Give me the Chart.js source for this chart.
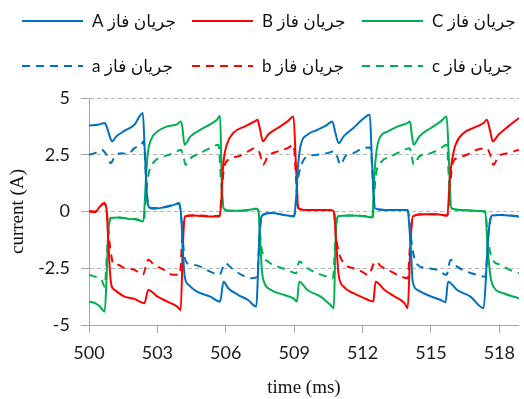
<!DOCTYPE html>
<html><head><meta charset="utf-8">
<script src="https://cdn.jsdelivr.net/npm/chart.js@4.4.0/dist/chart.umd.min.js"></script>
<style>html,body{margin:0;padding:0;background:#fff}#wrap{width:524px;height:399px;position:relative}</style>
</head><body><div id="wrap"><canvas id="c"></canvas></div>
<script>
// ---- data ----
const xTickLabels = [500, 503, 506, 509, 512, 515, 518];
const yTickLabels = [-5, -2.5, 0, 2.5, 5];
const seriesLabels = ['جریان فاز A', 'جریان فاز B', 'جریان فاز C', 'جریان فاز a', 'جریان فاز b', 'جریان فاز c'];

const tA = [500.0,500.4,500.69,500.77,500.91,501.01,501.2,501.56,501.99,502.36,502.45,502.55,502.64,502.86,503.29,503.73,503.95,504.05,504.12,504.2,504.38,504.74,505.32,505.75,505.9,506.11,506.55,506.98,507.34,507.42,507.49,507.63,507.99,508.57,508.99,509.08,509.15,509.29,509.58,510.02,510.45,510.67,510.81,510.95,511.17,511.6,512.0,512.32,512.4,512.54,512.97,513.41,513.98,514.06,514.13,514.2,514.42,514.85,515.43,515.64,515.75,516.15,516.73,517.31,517.45,517.52,517.67,518.03,518.86];
const iA = [3.79,3.82,3.9,3.75,3.31,3.09,3.31,3.56,3.82,4.34,2.6,0.6,0.18,0.12,0.18,0.29,0.37,-0.3,-1.8,-2.87,-3.24,-3.53,-3.75,-3.97,-3.09,-3.38,-3.68,-3.9,-4.19,-2.5,-0.74,-0.15,-0.07,-0.15,-0.22,0.5,1.76,2.94,3.38,3.6,3.82,3.97,3.46,3.01,3.31,3.68,4.06,4.26,2.5,0.15,0.07,0.07,0.07,-0.8,-1.9,-3.09,-3.46,-3.68,-3.9,-4.0,-3.09,-3.46,-3.75,-4.26,-2.2,-1.03,-0.18,-0.15,-0.22];

const tB = [500.0,500.26,500.48,500.66,500.77,500.84,500.91,500.98,501.13,501.56,501.99,502.43,502.6,503.01,503.44,503.87,504.02,504.12,504.2,504.6,505.17,505.72,505.8,505.85,505.9,506.04,506.33,506.84,507.27,507.39,507.49,507.63,507.85,508.28,508.71,508.97,509.08,509.18,509.44,510.02,510.59,510.74,510.85,510.95,511.17,511.6,512.0,512.47,512.57,512.97,513.41,513.84,513.98,514.1,514.2,514.7,515.28,515.72,515.83,515.93,516.08,516.44,516.87,517.31,517.45,517.6,517.71,517.96,518.39,518.86];
const iB = [0,-0.03,0.22,0.37,0.07,-1.18,-2.5,-3.24,-3.46,-3.75,-3.85,-4.04,-3.46,-3.75,-3.97,-4.19,-4.34,-1.47,-0.22,-0.18,-0.22,-0.22,0.4,1.47,2.2,2.94,3.46,3.75,3.97,4.04,3.68,3.09,3.38,3.68,3.97,4.19,2.0,0.15,0.07,0.07,0.07,0,-1.47,-2.79,-3.31,-3.6,-3.78,-3.97,-3.09,-3.46,-3.75,-4.04,-4.26,-1.47,-0.22,-0.12,-0.12,-0.18,1.47,2.28,2.94,3.46,3.68,3.9,4.04,3.53,3.09,3.38,3.75,4.12];

const tC = [500.0,500.26,500.48,500.69,500.77,500.84,500.95,501.27,501.71,502.14,502.38,502.5,502.57,502.72,503.01,503.44,503.87,504.02,504.09,504.19,504.45,505.03,505.61,505.75,505.82,505.9,506.11,506.55,506.98,507.34,507.44,507.52,507.59,507.7,507.99,508.57,509.0,509.12,509.22,509.58,510.16,510.59,510.74,510.81,510.91,511.46,512.18,512.43,512.51,512.61,512.75,513.12,513.55,513.98,514.08,514.16,514.24,514.49,515.0,515.43,515.69,515.79,515.89,516.3,516.87,517.38,517.48,517.6,517.74,518.18,518.86];
const iC = [-3.97,-4.04,-4.19,-4.41,-2.94,-1.03,-0.29,-0.26,-0.32,-0.37,-0.44,1.47,2.5,3.16,3.53,3.75,3.85,3.97,3.75,2.94,3.31,3.68,4.04,4.22,1.47,0.15,0.03,0.03,0.07,0.12,0,-1.47,-2.65,-3.16,-3.46,-3.68,-3.85,-3.97,-3.09,-3.46,-3.75,-4.12,-4.26,-1.47,-0.22,-0.18,-0.22,-0.26,1.47,2.65,3.24,3.53,3.75,3.9,3.97,3.38,2.94,3.31,3.68,3.97,4.19,2.2,0.15,0.07,0.03,0,-1.47,-2.79,-3.31,-3.6,-3.82];

const ta = [500.0,500.26,500.55,500.77,500.95,501.13,501.42,501.71,501.99,502.28,502.4,502.5,502.6,502.86,503.29,503.73,503.95,504.05,504.16,504.31,504.6,504.88,505.32,505.72,505.97,506.26,506.69,507.13,507.38,507.49,507.63,507.99,508.57,509.0,509.15,509.29,509.58,510.02,510.45,510.74,510.88,511.03,511.24,511.6,512.04,512.35,512.45,512.54,512.97,513.41,513.98,514.13,514.27,514.42,514.85,515.28,515.68,515.86,516.15,516.58,517.02,517.38,517.52,517.67,518.03,518.86];
const ia = [2.5,2.57,2.72,2.5,2.13,2.43,2.57,2.53,2.79,2.94,3.09,1.5,0.22,0.15,0.2,0.3,0.35,-0.3,-1.76,-2.28,-2.35,-2.43,-2.65,-2.79,-2.28,-2.5,-2.79,-2.94,-2.87,-0.9,-0.15,-0.07,-0.15,-0.2,1.32,1.99,2.43,2.5,2.57,2.65,2.43,2.06,2.43,2.57,2.79,2.82,1.4,0.15,0.07,0.07,0.07,-1.2,-2.06,-2.35,-2.5,-2.57,-2.79,-2.13,-2.43,-2.65,-2.79,-2.87,-1.0,-0.18,-0.15,-0.22];

const tb = [500.0,500.26,500.48,500.66,500.77,500.88,500.98,501.06,501.27,501.56,501.99,502.36,502.6,502.86,503.29,503.66,503.98,504.1,504.2,504.6,505.17,505.72,505.82,505.9,506.11,506.55,506.98,507.27,507.49,507.63,507.85,508.28,508.71,508.97,509.1,509.18,509.44,510.02,510.59,510.74,510.85,510.95,511.17,511.6,511.96,512.25,512.57,512.83,513.26,513.7,513.98,514.1,514.2,514.7,515.28,515.72,515.85,515.93,516.15,516.58,517.02,517.45,517.6,517.74,517.96,518.39,518.86];
const ib = [0.02,0,0.2,0.35,0.05,-1.2,-1.95,-2.3,-2.35,-2.5,-2.57,-2.79,-2.13,-2.35,-2.57,-2.79,-2.79,-1.0,-0.22,-0.16,-0.2,-0.2,0.8,1.76,2.28,2.43,2.65,2.79,2.57,2.06,2.43,2.65,2.79,2.94,1.2,0.15,0.07,0.07,0.07,0,-1.2,-1.76,-2.28,-2.5,-2.65,-2.79,-2.2,-2.43,-2.65,-2.87,-2.94,-1.2,-0.22,-0.12,-0.12,-0.18,1.2,2.06,2.35,2.5,2.72,2.79,2.5,2.06,2.43,2.57,2.72];

const tc = [500.0,500.26,500.55,500.69,500.78,500.86,500.95,501.27,501.71,502.14,502.4,502.52,502.64,502.86,503.29,503.73,504.02,504.16,504.23,504.45,504.88,505.32,505.68,505.8,505.9,506.11,506.55,506.98,507.34,507.44,507.52,507.63,507.85,508.28,508.71,509.08,509.22,509.58,510.02,510.45,510.7,510.81,510.91,511.46,512.18,512.45,512.53,512.61,512.83,513.26,513.7,514.06,514.16,514.24,514.49,515.0,515.43,515.69,515.8,515.89,516.3,516.87,517.38,517.5,517.67,518.03,518.46,518.86];
const ic = [-2.79,-2.87,-3.01,-3.31,-2.0,-0.8,-0.29,-0.26,-0.3,-0.35,-0.42,1.0,1.76,2.2,2.43,2.57,2.72,2.35,2.06,2.35,2.57,2.79,2.94,1.2,0.15,0.03,0.03,0.07,0.12,0,-1.2,-1.91,-2.2,-2.43,-2.57,-2.72,-2.2,-2.5,-2.72,-2.87,-2.94,-1.2,-0.22,-0.18,-0.22,-0.26,1.0,1.76,2.2,2.43,2.65,2.79,2.43,2.06,2.43,2.57,2.79,2.94,1.2,0.15,0.07,0.03,0,-1.2,-2.06,-2.35,-2.57,-2.72];

// ---- chart ----
const BLUE = '#0070C0', RED = '#FF0000', GREEN = '#00B050';
const pts = (t, v) => t.map((x, k) => ({x: x, y: v[k]}));
function ds(label, t, v, color, dashed) {
  return {
    label: label, data: pts(t, v), borderColor: color, backgroundColor: color,
    borderWidth: 2, pointRadius: 0, fill: false,
    cubicInterpolationMode: 'monotone',
    borderDash: dashed ? [8, 6] : []
  };
}

const legendPlugin = {
  id: 'rowLegend',
  afterDraw(chart) {
    const ctx = chart.ctx;
    const cols = [22, 192, 362];
    const rows = [21, 66];
    chart.data.datasets.forEach((d, k) => {
      const x0 = cols[k % 3], y = rows[Math.floor(k / 3)];
      ctx.save();
      ctx.strokeStyle = d.borderColor; ctx.lineWidth = 2;
      ctx.setLineDash(d.borderDash || []);
      ctx.beginPath(); ctx.moveTo(x0, y); ctx.lineTo(x0 + 61, y); ctx.stroke();
      ctx.setLineDash([]);
      ctx.fillStyle = '#111';
      ctx.font = "17px Lato, 'DejaVu Sans', sans-serif";
      ctx.direction = 'rtl';
      ctx.textAlign = 'left';
      ctx.textBaseline = 'middle';
      ctx.fillText(d.label, x0 + 70, y + 1);
      ctx.restore();
    });
  }
};

new Chart(document.getElementById('c'), {
  type: 'line',
  data: {
    datasets: [
      ds(seriesLabels[0], tA, iA, BLUE, false),
      ds(seriesLabels[1], tB, iB, RED, false),
      ds(seriesLabels[2], tC, iC, GREEN, false),
      ds(seriesLabels[3], ta, ia, BLUE, true),
      ds(seriesLabels[4], tb, ib, RED, true),
      ds(seriesLabels[5], tc, ic, GREEN, true)
    ]
  },
  options: {
    responsive: true, maintainAspectRatio: false, animation: false,
    devicePixelRatio: 1,
    layout: {padding: {top: 98, left: 0, right: 0, bottom: 0}},
    plugins: {legend: {display: false}, tooltip: {enabled: false}},
    scales: {
      x: {
        type: 'linear', min: 500, max: 518.86,
        afterBuildTicks: s => { s.ticks = xTickLabels.map(v => ({value: v})); },
        afterFit: s => { s.height = 74; },
        grid: {drawOnChartArea: false, drawTicks: true, tickLength: 8, color: '#a6a6a6'},
        border: {color: '#a6a6a6', width: 1},
        ticks: {font: {family: 'Lato', size: 18}, color: '#1a1a1a', padding: 9, maxRotation: 0,
                callback: v => String(v)},
        title: {display: true, text: 'time (ms)', font: {family: "'Liberation Serif'", size: 19}, color: '#111', padding: {top: 0, bottom: 0}}
      },
      y: {
        min: -5, max: 5,
        afterBuildTicks: s => { s.ticks = yTickLabels.map(v => ({value: v})); },
        afterFit: s => { s.width = 89; },
        grid: {color: '#b5b5b5', tickLength: 8, tickColor: '#a6a6a6', tickBorderDash: []},
        border: {color: '#a6a6a6', width: 1, dash: [4, 3]},
        ticks: {font: {family: 'Lato', size: 18}, color: '#1a1a1a', padding: 11,
                callback: v => String(v)},
        title: {display: true, text: 'current (A)', font: {family: "'Liberation Serif'", size: 19}, color: '#111', padding: {top: 7, bottom: 0}}
      }
    }
  },
  plugins: [legendPlugin]
});
</script>
</body></html>
